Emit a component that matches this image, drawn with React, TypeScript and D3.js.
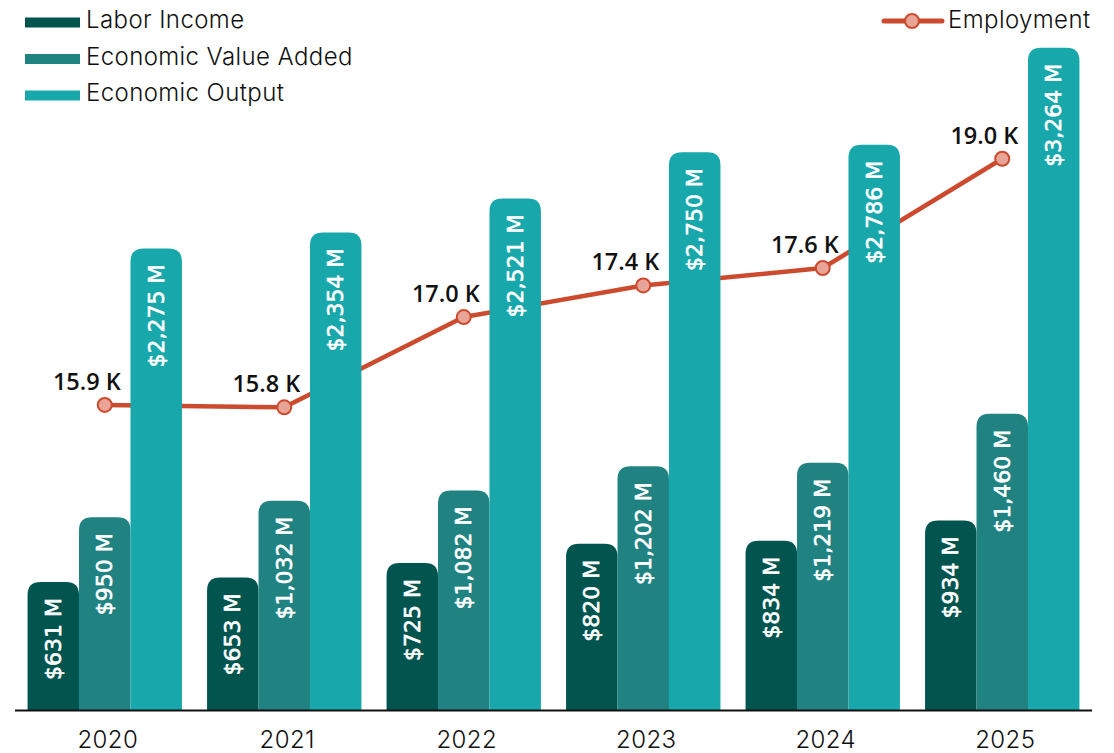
import React from "react";
import * as d3 from "d3";

const years = ["2020", "2021", "2022", "2023", "2024", "2025"];
const laborIncome = [631, 653, 725, 820, 834, 934];
const valueAdded = [950, 1032, 1082, 1202, 1219, 1460];
const economicOutput = [2275, 2354, 2521, 2750, 2786, 3264];
const employment = [15.87, 15.84, 16.98, 17.38, 17.6, 18.98];

const seriesNames = ["Labor Income", "Economic Value Added", "Economic Output"];
const seriesValues = [laborIncome, valueAdded, economicOutput];
const colors = ["#02544f", "#208281", "#18a7aa"];
const lineColor = "#cc4a2e";
const dotFill = "#e8a597";

const W = 1114;
const H = 753;
const legendFont = "Inter, 'Noto Sans', sans-serif";
const labelFont = "'Open Sans', 'Noto Sans', sans-serif";
const barLabelFont = "'DejaVu Sans', 'Open Sans', sans-serif";

function topRoundedBar(x: number, y: number, w: number, h: number, r: number) {
  const rr = Math.min(r, w / 2, h);
  return `M${x},${y + h}V${y + rr}Q${x},${y} ${x + rr},${y}H${x + w - rr}Q${x + w},${y} ${x + w},${y + rr}V${y + h}Z`;
}

export default function App() {
  const base = 710;
  const x = d3.scaleBand<string>().domain(years).range([15, 1092]).paddingInner(0.14).paddingOuter(0.07);
  const xs = d3.scaleBand<string>().domain(seriesNames).range([0, x.bandwidth()]).padding(0);
  const y = d3.scaleLinear().domain([0, 3500]).range([base, 0]);
  const yE = d3.scaleLinear().domain([14, 20]).range([553, 78]);
  const cx = (i: number) => (x(years[i]) as number) + x.bandwidth() / 2;

  const line = d3
    .line<number>()
    .x((_, i) => cx(i))
    .y((d) => yE(d));

  const fmtM = (v: number) => `$${d3.format(",")(v)} M`;
  const fmtK = (v: number) => `${d3.format(".1f")(v)} K`;

  return (
    <svg width={W} height={H} style={{ position: "absolute", left: 0, top: 0, background: "#fff" }}>
      {/* employment line (behind bars) */}
      <path d={line(employment) || ""} fill="none" stroke={lineColor} strokeWidth={4.5} strokeLinejoin="round" />

      {/* bars */}
      {years.map((yr, i) => (
        <g key={yr}>
          {seriesNames.map((s, j) => {
            const v = seriesValues[j][i];
            const bx = (x(yr) as number) + (xs(s) as number);
            const bw = xs.bandwidth();
            const top = y(v);
            const lx = bx + bw / 2;
            const ly = top + 16;
            return (
              <g key={s}>
                <path d={topRoundedBar(bx, top, bw, base - top, 13)} fill={colors[j]} />
                <text
                  x={lx}
                  y={ly}
                  transform={`rotate(-90, ${lx}, ${ly})`}
                  textAnchor="end"
                  dominantBaseline="central"
                  fill="#fff"
                  stroke="#fff"
                  strokeWidth={0.6}
                  fontFamily={barLabelFont}
                  fontSize={22}
                >
                  {fmtM(v)}
                </text>
              </g>
            );
          })}
        </g>
      ))}

      {/* employment markers and labels */}
      {employment.map((v, i) => (
        <g key={i}>
          <circle cx={cx(i)} cy={yE(v)} r={7} fill={dotFill} stroke={lineColor} strokeWidth={2} />
          <text
            x={cx(i) + 16}
            y={yE(v) - 15}
            textAnchor="end"
            fill="#111"
            fontFamily={labelFont}
            fontWeight={600}
            fontSize={23.5}
          >
            {fmtK(v)}
          </text>
        </g>
      ))}

      {/* baseline axis */}
      <line x1={15} x2={1092} y1={base + 0.5} y2={base + 0.5} stroke="#111" strokeWidth={2} />
      {years.map((yr, i) => (
        <text
          key={yr}
          x={cx(i) + 3}
          y={748}
          textAnchor="middle"
          fill="#111"
          fontFamily={legendFont}
          fontWeight={300}
          fontSize={24}
          letterSpacing={0.4}
        >
          {yr}
        </text>
      ))}

      {/* legend */}
      {seriesNames.map((s, j) => (
        <g key={s} transform={`translate(0, ${j * 36.5})`}>
          <rect x={25} y={17.5} width={55} height={10} fill={colors[j]} />
          <text x={86} y={28} fill="#111" fontFamily={legendFont} fontWeight={300} fontSize={24} letterSpacing={0.4}>
            {s}
          </text>
        </g>
      ))}
      <g>
        <line x1={884} x2={942} y1={21} y2={21} stroke={lineColor} strokeWidth={5} strokeLinecap="round" />
        <circle cx={912} cy={21} r={7} fill={dotFill} stroke={lineColor} strokeWidth={2} />
        <text x={948} y={28} fill="#111" fontFamily={legendFont} fontWeight={300} fontSize={24} letterSpacing={0.4}>
          Employment
        </text>
      </g>
    </svg>
  );
}
